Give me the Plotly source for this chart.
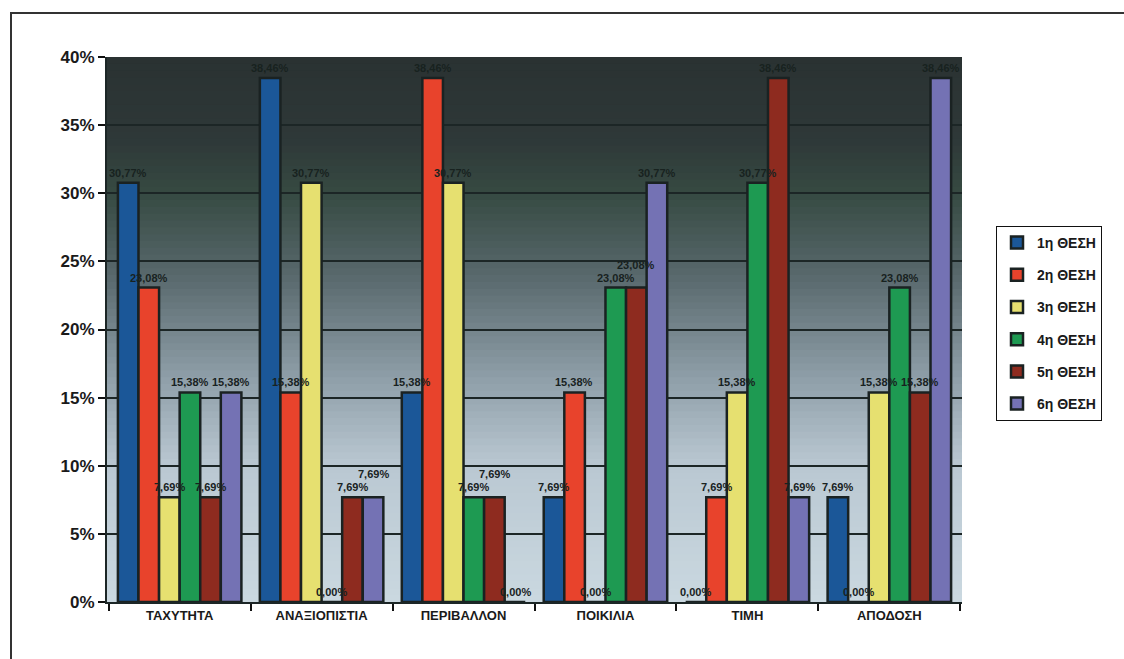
import plotly.graph_objects as go

# Categories and ranking shares (percent of respondents)
categories = ["ΤΑΧΥΤΗΤΑ", "ΑΝΑΞΙΟΠΙΣΤΙΑ", "ΠΕΡΙΒΑΛΛΟΝ", "ΠΟΙΚΙΛΙΑ", "ΤΙΜΗ", "ΑΠΟΔΟΣΗ"]
series_names = ["1η ΘΕΣΗ", "2η ΘΕΣΗ", "3η ΘΕΣΗ", "4η ΘΕΣΗ", "5η ΘΕΣΗ", "6η ΘΕΣΗ"]

pos1 = [30.77, 38.46, 15.38, 7.69, 0.00, 7.69]
pos2 = [23.08, 15.38, 38.46, 15.38, 7.69, 0.00]
pos3 = [7.69, 30.77, 30.77, 0.00, 15.38, 15.38]
pos4 = [15.38, 0.00, 7.69, 23.08, 30.77, 23.08]
pos5 = [7.69, 7.69, 7.69, 23.08, 38.46, 15.38]
pos6 = [15.38, 7.69, 0.00, 30.77, 7.69, 38.46]

y_ticks = [0, 5, 10, 15, 20, 25, 30, 35, 40]

series_values = [pos1, pos2, pos3, pos4, pos5, pos6]
colors = ["#1b5798", "#e8432c", "#e6e070", "#1e9a52", "#8e2b1f", "#7472b4"]

W, H = 1124, 659
L, R, T, B = 107, 162, 57, 57
pw, ph = W - L - R, H - T - B
Y_MAX = 40
BARGAP = 0.13

fig = go.Figure()
for name, vals, col in zip(series_names, series_values, colors):
    fig.add_trace(go.Bar(
        name=name,
        x=categories,
        y=vals,
        marker=dict(color=col, line=dict(color="#1a2222", width=2.5)),
        legendgroup=name,
    ))

# Value labels above each bar, nudged upward where neighbouring labels would collide
n_series = len(series_values)
cat_w = pw / len(categories)
bar_w = cat_w * (1 - BARGAP) / n_series
lab_w, lab_h = 40, 13
annotations = []
for ci, cat in enumerate(categories):
    placed = []
    for si, vals in enumerate(series_values):
        v = vals[ci]
        dx = (si - (n_series - 1) / 2) * bar_w
        base = v / Y_MAX * ph + 2
        yoff = base
        moved = True
        while moved:
            moved = False
            for (pxx, pyy) in placed:
                if abs(pxx - dx) < lab_w and abs(pyy - yoff) < lab_h:
                    yoff = pyy + lab_h
                    moved = True
        placed.append((dx, yoff))
        annotations.append(dict(
            x=cat, y=v, xref="x", yref="y", xshift=dx, yshift=yoff - base + 2,
            yanchor="bottom", showarrow=False,
            text=f"{v:.2f}%".replace(".", ","),
            font=dict(family="Arial", size=11, color="#18221f", weight="bold"),
        ))

# Vertical gradient behind the plot area: dark charcoal on top, pale blue-grey below
stops = [(0.0, (202, 216, 224)), (0.25, (186, 200, 210)), (0.42, (140, 156, 166)),
         (0.6, (88, 104, 108)), (0.75, (54, 74, 66)), (0.85, (46, 56, 56)), (1.0, (42, 50, 50))]

def grad(t):
    for (t0, c0), (t1, c1) in zip(stops[:-1], stops[1:]):
        if t0 <= t <= t1:
            f = (t - t0) / (t1 - t0)
            return "rgb(%d,%d,%d)" % tuple(round(a + (b - a) * f) for a, b in zip(c0, c1))
    return "rgb(%d,%d,%d)" % stops[-1][1]

shapes = []
n = 80
for i in range(n):
    y0 = i / n
    y1 = min(1.0, (i + 1) / n + 0.004)
    shapes.append(dict(type="rect", xref="paper", yref="paper", x0=0, x1=1, y0=y0, y1=y1,
                       fillcolor=grad(i / n + 0.5 / n), line=dict(width=0), layer="below"))

def px(x):
    return (x - L) / pw
def py(y):
    return (H - B - y) / ph

# Outer chart frame (top and left edges)
shapes.append(dict(type="line", xref="paper", yref="paper", x0=px(10), x1=px(1124), y0=py(13), y1=py(13),
                   line=dict(color="#333333", width=2)))
shapes.append(dict(type="line", xref="paper", yref="paper", x0=px(11), x1=px(11), y0=py(13), y1=py(659),
                   line=dict(color="#333333", width=2)))

fig.update_layout(
    width=W, height=H,
    margin=dict(l=L, r=R, t=T, b=B),
    paper_bgcolor="white",
    plot_bgcolor="rgba(0,0,0,0)",
    barmode="group",
    bargap=BARGAP,
    bargroupgap=0,
    shapes=shapes,
    annotations=annotations,
    font=dict(family="Arial", color="#1a1a1a"),
    legend=dict(
        x=px(996), xanchor="left", y=py(226), yanchor="top",
        bordercolor="#111111", borderwidth=1, bgcolor="white",
        font=dict(family="Arial", size=14, color="#1a1a1a", weight="bold"),
        traceorder="grouped", tracegroupgap=11,
        itemclick=False,
    ),
    showlegend=True,
)

fig.update_yaxes(
    range=[0, Y_MAX], tickvals=y_ticks, ticktext=[f"{v}%" for v in y_ticks],
    showgrid=True, gridcolor="#1c2626", gridwidth=2,
    ticks="outside", ticklen=7, tickcolor="#111111", tickwidth=2,
    showline=True, linecolor="#1c2626", linewidth=2,
    tickfont=dict(family="Arial", size=17, color="#1a1a1a", weight="bold"),
    zeroline=False,
)
fig.update_xaxes(
    tickson="boundaries", ticks="outside", ticklen=7, tickcolor="#111111", tickwidth=2,
    showline=True, linecolor="#1c2626", linewidth=2,
    tickfont=dict(family="Arial", size=13, color="#1a1a1a", weight="bold"),
)

fig.write_html("out.html")
